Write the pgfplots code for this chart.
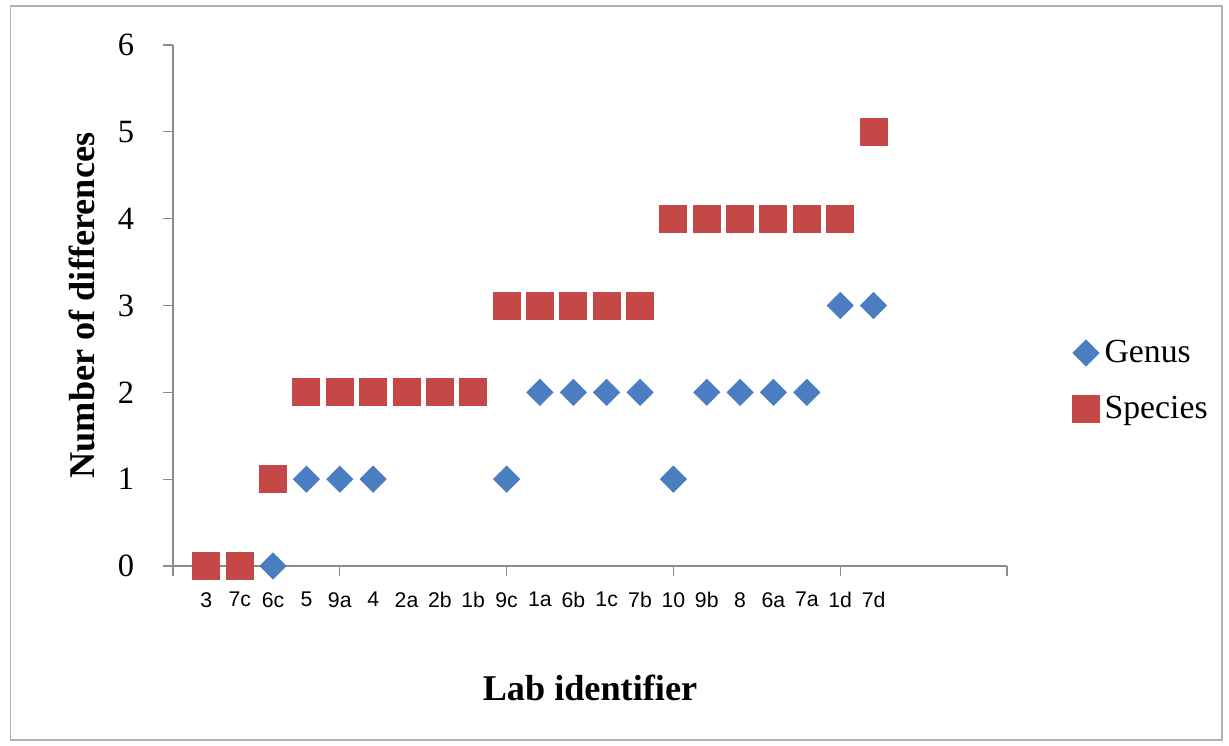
\documentclass[border=0pt]{standalone}
\usepackage{fontspec}
\setmainfont{Liberation Serif}
\setsansfont{Liberation Sans}
\usepackage{pgfplots}
\pgfplotsset{compat=1.18}
\definecolor{genus}{RGB}{74,126,193}
\definecolor{species}{RGB}{196,72,70}
\definecolor{axisgray}{RGB}{140,140,140}

\begin{document}
\begin{tikzpicture}
\useasboundingbox (0,0) rectangle (491.6pt,-298pt);
\draw[color=gray!60, line width=0.7pt] (4.2pt,-2.4pt) rectangle (488.8pt,-296pt);
\begin{axis}[
  at={(69.2pt,-226.4pt)}, anchor=south west,
  scale only axis, width=333.6pt, height=208.4pt,
  xmin=0, xmax=25, ymin=0, ymax=6,
  clip=false,
  axis x line*=bottom, axis y line*=left,
  axis line style={axisgray, line width=0.5pt},
  tick style={axisgray, line width=0.5pt},
  tick align=outside, major tick length=4pt,
  /pgf/number format/assume math mode=true,
  ytick={0,...,6},
  yticklabel style={font=\fontsize{13}{15}\selectfont, xshift=-8pt},
  xtick={0,5,...,25}, xticklabels={},
  extra x ticks={1,...,21},
  extra x tick labels={3,7c,6c,5,9a,4,2a,2b,1b,9c,1a,6b,1c,7b,10,9b,8,6a,7a,1d,7d},
  extra x tick style={major tick length=0pt,
    tick label style={font=\sffamily\fontsize{8.5}{10}\selectfont, yshift=-7pt}},
  xlabel={\textbf{Lab identifier}},
  ylabel={\textbf{Number of differences}},
  xlabel style={font=\fontsize{14.5}{17}\selectfont, at={(axis description cs:0.5,-0.234)}, anchor=center},
  ylabel style={font=\fontsize{14.5}{17}\selectfont, at={(axis description cs:-0.109,0.5)}, anchor=center},
  legend style={draw=none, fill=none, at={(1.078,0.355)}, anchor=west,
    font=\fontsize{13.5}{16}\selectfont, row sep=8pt, inner sep=0pt},
  legend cell align=left,
]
\addplot[only marks, mark=square*, mark size=3.65pt,
  mark options={rotate=45, fill=genus, draw=genus}] coordinates {
  (1,0) (2,0) (3,0) (4,1) (5,1) (6,1) (7,2) (8,2) (9,2) (10,1) (11,2)
  (12,2) (13,2) (14,2) (15,1) (16,2) (17,2) (18,2) (19,2) (20,3) (21,3)};
\addplot[only marks, mark=square*, mark size=5.4pt,
  mark options={fill=species, draw=species}] coordinates {
  (1,0) (2,0) (3,1) (4,2) (5,2) (6,2) (7,2) (8,2) (9,2) (10,3) (11,3)
  (12,3) (13,3) (14,3) (15,4) (16,4) (17,4) (18,4) (19,4) (20,4) (21,5)};
\legend{Genus,Species}
\end{axis}
\end{tikzpicture}
\end{document}
